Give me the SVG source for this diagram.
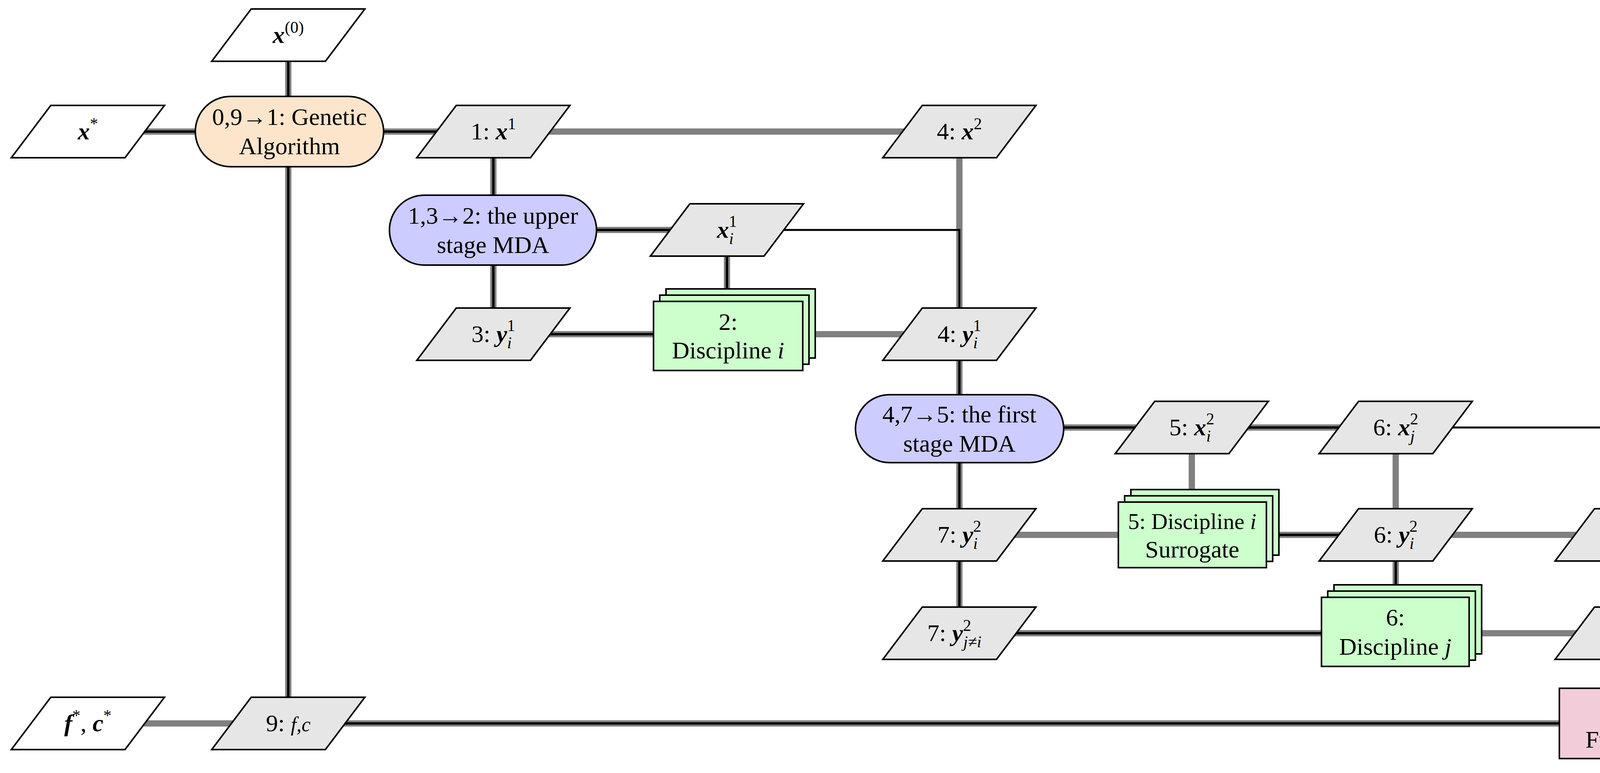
<svg xmlns="http://www.w3.org/2000/svg" xmlns:xlink="http://www.w3.org/1999/xlink" width="4402" height="1980" viewBox="0 0 4402 1980">
<style>
text{font-family:"Liberation Serif","DejaVu Serif",serif;font-size:62px;text-anchor:middle;fill:#000}
.m{font-style:italic;font-weight:bold}
.mi{font-style:italic}
.s{font-size:42px}
.n{stroke:#000;stroke-width:4}
.w{fill:#fff}.g{fill:#e6e6e6}
.ga{fill:#fde5cc}.mda{fill:#ccccff}.d{fill:#ccffcc}.f{fill:#f2cdd9}
.gl{stroke:#808080;stroke-width:16;fill:none}
.bl{stroke:#000;stroke-width:6;fill:none}
.tl{stroke:#000;stroke-width:5;fill:none}
</style>
<defs>
<path id="pg" d="M-95,-67 L196,-67 L95,67 L-196,67 Z"/>
</defs>
<rect width="4402" height="1980" fill="#fff"/>
<g id="connectors">
<path class="gl" d="M1263,337 H2456 V856 M2055,856 H2456 M2456,1370 H3100 M3573,1095 V1370 M3573,1370 H4177 M3761,1622 H4177 M225,1853 H738 M3051,1095 V1290 M225,337 H1263 M738,90 V1853 H4177 M1263,337 V856 M1263,589 H1861 V800 M1263,856 H1700 M2456,856 V1622 M2456,1095 H3573 M3242,1370 H3573 M3573,1370 V1560 M4177,1370 V1800 M2456,1622 H3400"/>
<path class="bl" d="M225,337 H1263 M738,90 V1853 H4177 M1263,337 V856 M1263,589 H1861 V800 M1263,856 H1700 M2456,856 V1622 M2456,1095 H3573 M3242,1370 H3573 M3573,1370 V1560 M4177,1370 V1800 M2456,1622 H3400"/>
<path class="tl" d="M1960,589 H2456 V800 M3700,1095 H4177 V1320"/>
</g>
<g id="x0"><use href="#pg" x="738" y="90" class="n w"/><text x="738" y="110"><tspan class="m">x</tspan><tspan class="s" dy="-26">(0)</tspan></text></g>
<g id="xstar"><use href="#pg" x="225" y="337" class="n w"/><text x="225" y="357"><tspan class="m">x</tspan><tspan class="s" dy="-26">*</tspan></text></g>
<g id="ga"><rect class="n ga" x="500" y="247" width="482" height="180" rx="90"/><text x="741" y="320">0,9→1: Genetic</text><text x="741" y="395">Algorithm</text></g>
<g id="x1"><use href="#pg" x="1263" y="337" class="n g"/><text x="1263" y="357">1: <tspan class="m">x</tspan><tspan class="s" dy="-26">1</tspan></text></g>
<g id="x2"><use href="#pg" x="2456" y="337" class="n g"/><text x="2456" y="357">4: <tspan class="m">x</tspan><tspan class="s" dy="-26">2</tspan></text></g>
<g id="mda1"><rect class="n mda" x="997" y="500" width="530" height="179" rx="89"/><text x="1262" y="573">1,3→2: the upper</text><text x="1262" y="648">stage MDA</text></g>
<g id="xi1"><use href="#pg" x="1861" y="589" class="n g"/><text x="1861" y="609"><tspan class="m">x</tspan><tspan class="s mi" dy="16">i</tspan><tspan class="s" dx="-12" dy="-44">1</tspan></text></g>
<g id="yi1a"><use href="#pg" x="1263" y="856" class="n g"/><text x="1263" y="876">3: <tspan class="m">y</tspan><tspan class="s mi" dy="16">i</tspan><tspan class="s" dx="-12" dy="-44">1</tspan></text></g>
<g id="disci"><rect class="n d" x="1705" y="740" width="382" height="177"/><rect class="n d" x="1689" y="756" width="382" height="177"/><rect class="n d" x="1673" y="772" width="382" height="177"/><text x="1864" y="845">2:</text><text x="1864" y="918">Discipline <tspan class="mi">i</tspan></text></g>
<g id="yi1b"><use href="#pg" x="2456" y="856" class="n g"/><text x="2456" y="876">4: <tspan class="m">y</tspan><tspan class="s mi" dy="16">i</tspan><tspan class="s" dx="-12" dy="-44">1</tspan></text></g>
<g id="mda2"><rect class="n mda" x="2190" y="1011" width="533" height="174" rx="87"/><text x="2456" y="1082">4,7→5: the first</text><text x="2456" y="1157">stage MDA</text></g>
<g id="xi2"><use href="#pg" x="3051" y="1095" class="n g"/><text x="3051" y="1115">5: <tspan class="m">x</tspan><tspan class="s mi" dy="16">i</tspan><tspan class="s" dx="-12" dy="-44">2</tspan></text></g>
<g id="xj2"><use href="#pg" x="3573" y="1095" class="n g"/><text x="3573" y="1115">6: <tspan class="m">x</tspan><tspan class="s mi" dy="16">j</tspan><tspan class="s" dx="-12" dy="-44">2</tspan></text></g>
<g id="surr"><rect class="n d" x="2895" y="1254" width="379" height="168"/><rect class="n d" x="2879" y="1270" width="379" height="168"/><rect class="n d" x="2863" y="1286" width="379" height="168"/><text x="3052" y="1355" style="font-size:58px">5: Discipline <tspan class="mi">i</tspan></text><text x="3052" y="1428">Surrogate</text></g>
<g id="yi2a"><use href="#pg" x="2456" y="1370" class="n g"/><text x="2456" y="1390">7: <tspan class="m">y</tspan><tspan class="s mi" dy="16">i</tspan><tspan class="s" dx="-12" dy="-44">2</tspan></text></g>
<g id="yi2b"><use href="#pg" x="3573" y="1370" class="n g"/><text x="3573" y="1390">6: <tspan class="m">y</tspan><tspan class="s mi" dy="16">i</tspan><tspan class="s" dx="-12" dy="-44">2</tspan></text></g>
<g id="yi2c"><use href="#pg" x="4177" y="1370" class="n g"/><text x="4177" y="1390">8: <tspan class="m">y</tspan><tspan class="s mi" dy="16">i</tspan><tspan class="s" dx="-12" dy="-44">2</tspan></text></g>
<g id="yji2a"><use href="#pg" x="2456" y="1622" class="n g"/><text x="2430" y="1642">7: <tspan class="m">y</tspan><tspan class="s" dy="-26">2</tspan></text><text x="2466" y="1658" class="s mi" style="text-anchor:start">j≠i</text></g>
<g id="discj"><rect class="n d" x="3415" y="1498" width="378" height="177"/><rect class="n d" x="3399" y="1514" width="378" height="177"/><rect class="n d" x="3383" y="1530" width="378" height="177"/><text x="3572" y="1602">6:</text><text x="3572" y="1677">Discipline <tspan class="mi">j</tspan></text></g>
<g id="yji2b"><use href="#pg" x="4177" y="1622" class="n g"/><text x="4151" y="1642">8: <tspan class="m">y</tspan><tspan class="s" dy="-26">2</tspan></text><text x="4187" y="1658" class="s mi" style="text-anchor:start">j≠i</text></g>
<g id="fstar"><use href="#pg" x="225" y="1853" class="n w"/><text x="225" y="1873"><tspan class="m">f</tspan><tspan class="s" dy="-26">*</tspan><tspan dy="26">, </tspan><tspan class="m">c</tspan><tspan class="s" dy="-26">*</tspan></text></g>
<g id="fc"><use href="#pg" x="738" y="1853" class="n g"/><text x="738" y="1873">9: <tspan class="mi" style="font-size:52px">f,c</tspan></text></g>
<g id="func"><rect class="n f" x="3992" y="1763" width="379" height="180"/><text x="4181" y="1835">8:</text><text x="4181" y="1915">Functions</text></g>
</svg>
